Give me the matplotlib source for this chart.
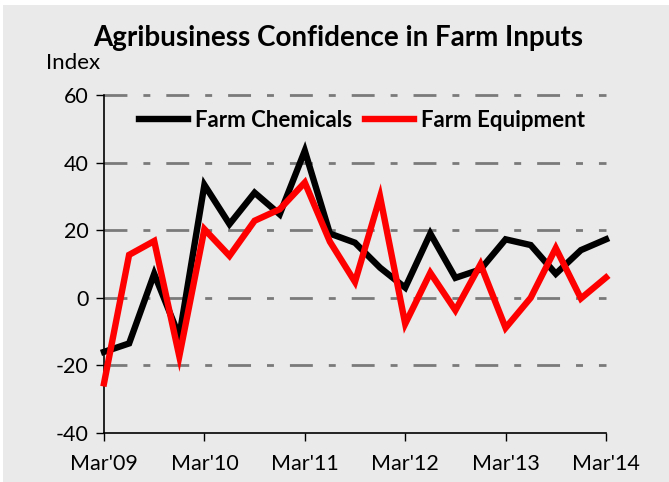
import matplotlib
matplotlib.use("Agg")
import matplotlib.pyplot as plt
from matplotlib.patches import Rectangle

# Quarterly survey readings, Mar'09 .. Mar'14
quarters = list(range(21))
farm_chemicals = [-16.0, -13.5, 7.1, -11.4, 33.4, 21.8, 31.1, 24.7, 43.5, 19.0,
                  16.3, 8.9, 3.0, 19.0, 5.9, 8.4, 17.3, 15.6, 7.1, 14.1, 17.3]
farm_equipment = [-25.3, 12.7, 16.8, -17.3, 20.3, 12.4, 22.8, 26.2, 34.1, 16.6,
                  4.7, 29.9, -7.7, 7.4, -3.7, 9.9, -8.9, 0.0, 14.7, -0.2, 6.0]
tick_positions = [0, 4, 8, 12, 16, 20]
tick_labels = ["Mar'09", "Mar'10", "Mar'11", "Mar'12", "Mar'13", "Mar'14"]
y_ticks = [-40, -20, 0, 20, 40, 60]

plt.rcParams['font.family'] = ['Lato', 'DejaVu Sans']
plt.rcParams['lines.scale_dashes'] = False

W, H = 669, 482
fig = plt.figure(figsize=(W / 100, H / 100), dpi=100, facecolor='white')
# grey panel behind everything, leaving a thin white margin top and left
fig.patches.append(Rectangle((3 / W, 0), 1 - 3 / W, 1 - 5 / H,
                             transform=fig.transFigure, facecolor='#eaeaea',
                             edgecolor='none', zorder=-10))

ax = fig.add_axes([104 / W, 49 / H, 502 / W, 338 / H])
ax.set_facecolor('none')
ax.set_zorder(2)

grey = '#7a7a7a'
for v in y_ticks[1:]:
    ax.plot([0, 20], [v, v], color=grey, lw=2.0,
            linestyle=(0, (16.5, 11.5, 5, 11.5)), zorder=1, clip_on=False,
            solid_capstyle='butt', dash_capstyle='butt')

ax.plot(quarters, farm_chemicals, color='black', lw=4.6, label='Farm Chemicals',
        zorder=3, clip_on=False, solid_joinstyle='miter')
ax.plot(quarters, farm_equipment, color='#ff0000', lw=4.6, label='Farm Equipment',
        zorder=4, clip_on=False, solid_joinstyle='miter')

ax.set_xlim(0, 20)
ax.set_ylim(-40, 60)
ax.set_xticks(tick_positions)
ax.set_xticklabels(tick_labels)
ax.set_yticks(y_ticks)
ax.set_yticklabels([str(v) for v in y_ticks])
ax.tick_params(axis='both', direction='out', length=6, width=1, color='black',
               labelsize=15.5, pad=5)
ax.tick_params(axis='x', pad=9)
for side in ('top', 'right'):
    ax.spines[side].set_visible(False)
for side in ('left', 'bottom'):
    ax.spines[side].set_linewidth(1.2)
    ax.spines[side].set_color('black')

leg = ax.legend(loc='center', bbox_to_anchor=(0.514, 0.926), ncol=2,
                frameon=False, handlelength=2.2, handletextpad=0.35,
                columnspacing=0.55, borderpad=0,
                prop={'weight': 'bold', 'size': 16})

fig.text(338 / W, 1 - 38 / H, 'Agribusiness Confidence in Farm Inputs',
         ha='center', va='center', fontsize=20, fontweight='bold')
fig.text(46 / W, 1 - 63 / H, 'Index', ha='left', va='center', fontsize=16)

fig.savefig('out.png', dpi=100, facecolor='white')
